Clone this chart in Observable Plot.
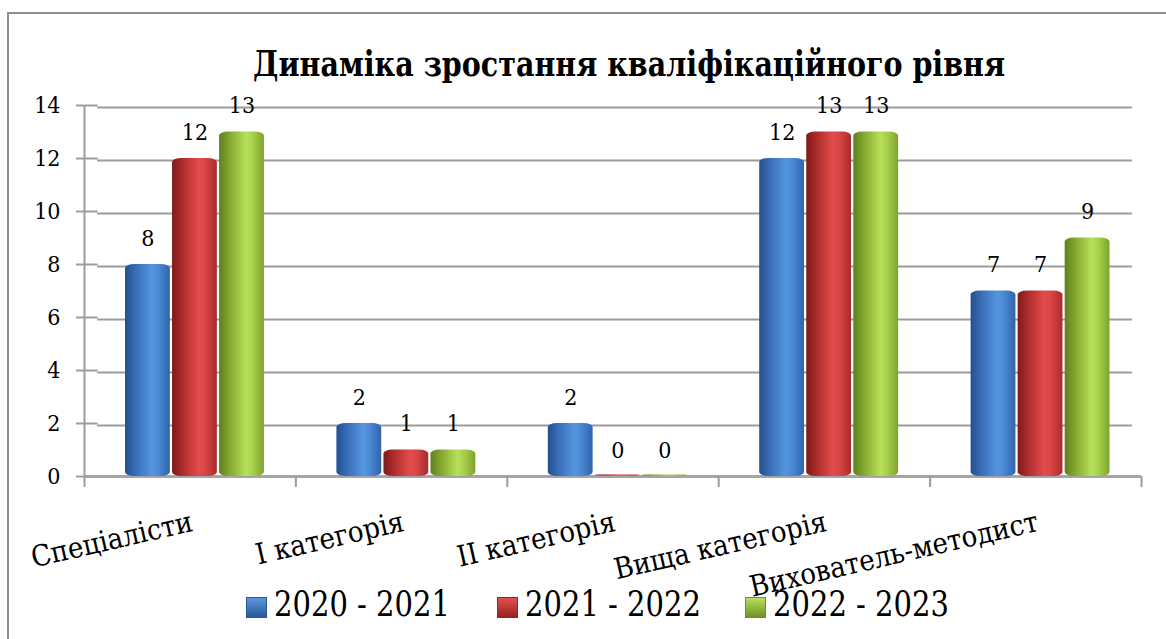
<!DOCTYPE html>
<html>
<head>
<meta charset="utf-8">
<script src="https://cdn.jsdelivr.net/npm/d3@7"></script>
<script src="https://cdn.jsdelivr.net/npm/@observablehq/plot@0.6"></script>
<style>
  html, body { margin: 0; padding: 0; background: #fff; overflow: hidden; }
  body { width: 1166px; height: 639px; position: relative; font-family: "DejaVu Serif", serif; font-stretch: condensed; }
  #frame { position: absolute; left: 7px; top: 12px; width: 1200px; height: 700px; border: 2px solid #8f8f8f; box-sizing: border-box; }
  #title { position: absolute; left: 629px; top: 41px; font-weight: bold; font-size: 36px; color: #000; line-height: 44px; white-space: nowrap; transform-origin: 0 0; }
  #chart { position: absolute; left: 0; top: 0; }
  #legend { position: absolute; left: 246px; top: 584px; color: #000; white-space: nowrap; }
  .item { position: absolute; top: 0; display: flex; align-items: center; }
  .sw { width: 21px; height: 21px; margin-top: 6px; box-sizing: border-box; }
  .lt { font-size: 35px; line-height: 40px; display: inline-block; transform-origin: 0 50%; }
</style>
</head>
<body>
<div id="frame"></div>
<div id="title">Динаміка зростання кваліфікаційного рівня</div>
<div id="chart"></div>
<div id="legend"></div>
<script>
// ---- data ----
const categories = ["Спеціалісти", "I категорія", "II категорія", "Вища категорія", "Вихователь-методист"];
const seriesNames = ["2020 - 2021", "2021 - 2022", "2022 - 2023"];
const values2020 = [8, 2, 2, 12, 7];
const values2021 = [12, 1, 0, 13, 7];
const values2022 = [13, 1, 0, 13, 9];
const yTicks = [0, 2, 4, 6, 8, 10, 12, 14];

const seriesValues = [values2020, values2021, values2022];
const rows = [];
categories.forEach((c, ci) => {
  seriesNames.forEach((s, si) => {
    rows.push({category: c, ci, series: s, si, value: seriesValues[si][ci]});
  });
});

const firstOff = 0.300, step = 0.2225, halfW = 0.106;
const center = d => d.ci + firstOff + d.si * step;

const gradIds = ["gBlue", "gRed", "gGreen"];
const gradStops = [
  ["#234f8f", "#3a6fb8", "#5596e0", "#4a88d4", "#2f64aa"],
  ["#7e1a1a", "#b02e2e", "#e44c4c", "#d84444", "#a82c2c"],
  ["#5f7f1f", "#86aa30", "#b6e05a", "#a8d04c", "#7fa32e"]
];

const gridColor = "#9c9c9c";

const plot = Plot.plot({
  width: 1166,
  height: 639,
  marginLeft: 84,
  marginRight: 25,
  marginTop: 105,
  marginBottom: 163,
  style: {fontFamily: "'DejaVu Serif', serif", fontSize: "22px", color: "#000", background: "transparent", fontStretch: "condensed"},
  x: {domain: [0, categories.length], axis: null},
  y: {domain: [0, 14], axis: null},
  color: {domain: seriesNames, range: gradIds.map(id => `url(#${id})`)},
  marks: [
    Plot.ruleY(yTicks.filter(t => t > 0), {y: d => d, x1: 0.062, x2: 4.957, dy: 2, stroke: gridColor, strokeWidth: 2}),
    Plot.link(yTicks.filter(t => t > 0), {x1: 0, x2: 0.062, y1: d => d, y2: d => d, stroke: gridColor, strokeWidth: 2}),
    Plot.ruleY([0], {x1: 0, x2: 5, stroke: "#a5a5a5", strokeWidth: 3}),
    Plot.ruleX([0], {y1: 0, y2: 14, stroke: gridColor, strokeWidth: 2}),
    Plot.axisY({ticks: yTicks, tickSize: 8, tickPadding: 16, stroke: gridColor, strokeWidth: 2, fontSize: 23, label: null, tickFormat: d => String(d)}),
    Plot.axisX({ticks: d3.range(0, categories.length + 1), tickSize: 11, tickFormat: () => "", stroke: gridColor, strokeWidth: 2, label: null}),
    Plot.rectY(rows, {
      x1: d => center(d) - halfW,
      x2: d => center(d) + halfW,
      y1: 0,
      y2: "value",
      fill: "series",
      rx: 9,
      ry: 4
    }),
    Plot.rectY(rows.filter(d => d.value === 0), {
      x1: d => center(d) - halfW,
      x2: d => center(d) + halfW,
      y1: 0,
      y2: "value",
      insetTop: -2,
      fill: "series",
      fillOpacity: 0.6,
      rx: 9,
      ry: 1
    }),
    Plot.text(rows, {x: center, y: "value", text: d => String(d.value), dy: -26, fontSize: 23, fill: "#000"}),
    Plot.text(categories, {
      x: (d, i) => i + 0.5,
      frameAnchor: "bottom",
      text: d => d,
      rotate: -13,
      textAnchor: "end",
      lineAnchor: "bottom",
      dx: 4,
      dy: 54,
      fontSize: 29,
      fill: "#000"
    })
  ]
});

const svg = d3.select(plot);
const defs = svg.insert("defs", ":first-child");
gradIds.forEach((id, i) => {
  const g = defs.append("linearGradient").attr("id", id).attr("x1", "0%").attr("x2", "100%").attr("y1", "0%").attr("y2", "0%");
  const offs = [0, 0.25, 0.6, 0.75, 1];
  gradStops[i].forEach((c, k) => g.append("stop").attr("offset", offs[k]).attr("stop-color", c));
});
document.getElementById("chart").appendChild(plot);

const title = document.getElementById("title");
const tw = title.getBoundingClientRect().width;
const ts = Math.min(1, 752 / tw);
title.style.transform = `translateX(${-tw * ts / 2}px) scaleX(${ts})`;

const legendColors = [
  ["#5a96e0", "#2a5898"],
  ["#e25050", "#9a2222"],
  ["#b8e060", "#6e9226"]
];
const legendLeft = [0, 251, 499];
const legend = document.getElementById("legend");
seriesNames.forEach((s, i) => {
  const item = document.createElement("div");
  item.className = "item";
  item.style.left = legendLeft[i] + "px";
  const sw = document.createElement("div");
  sw.className = "sw";
  sw.style.background = `linear-gradient(180deg, ${legendColors[i][0]}, ${legendColors[i][1]})`;
  sw.style.border = `1px solid ${legendColors[i][1]}`;
  sw.style.marginRight = "7px";
  const t = document.createElement("span");
  t.className = "lt";
  t.textContent = s;
  item.appendChild(sw);
  item.appendChild(t);
  legend.appendChild(item);
  const w = t.getBoundingClientRect().width;
  const sc = Math.min(1, 176 / w);
  t.style.transform = `scaleX(${sc})`;
});
</script>
</body>
</html>
